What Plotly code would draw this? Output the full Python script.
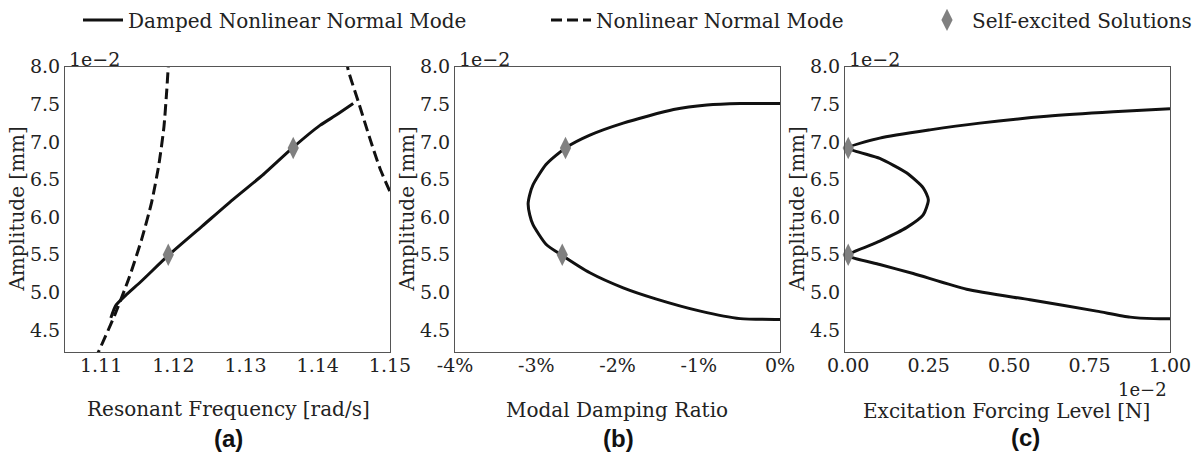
import plotly.graph_objects as go

W, H = 1201, 457

# ---------------- data (amplitudes in units of 1e-2 mm) ----------------
# (a) resonant frequency vs amplitude
freq_dnnm = [1.11135, 1.1120, 1.1133, 1.1156, 1.1193, 1.1240, 1.1282, 1.1325, 1.1365, 1.1403, 1.1426, 1.1449]
amp_dnnm_a = [4.66, 4.82, 4.95, 5.15, 5.49, 5.88, 6.23, 6.57, 6.92, 7.22, 7.36, 7.51]

freq_nnm_left = [1.1091, 1.1096, 1.1119, 1.1139, 1.1156, 1.1170, 1.1180, 1.1187, 1.1191, 1.1193, 1.1195]
amp_nnm_left = [4.10, 4.20, 4.70, 5.20, 5.70, 6.20, 6.70, 7.20, 7.70, 8.00, 8.20]
freq_nnm_right = [1.1440, 1.1442, 1.1456, 1.1472, 1.1486, 1.1500, 1.1510]
amp_nnm_right = [8.10, 7.96, 7.54, 7.05, 6.65, 6.34, 6.15]

freq_self = [1.1193, 1.1366]
amp_self_a = [5.50, 6.92]

# (b) modal damping ratio [%] vs amplitude
damp_ratio = [0.0, -0.49, -0.90, -1.31, -1.93, -2.34, -2.64, -2.88, -3.04, -3.08, -3.10,
              -3.08, -3.04, -2.88, -2.68, -2.34, -1.93, -1.52, -0.98, -0.49, 0.0]
amp_dnnm_b = [7.51, 7.51, 7.49, 7.43, 7.25, 7.09, 6.92, 6.70, 6.43, 6.30, 6.18,
              6.03, 5.90, 5.64, 5.49, 5.26, 5.06, 4.91, 4.75, 4.65, 4.64]
damp_self = [-2.64, -2.68]
amp_self_b = [6.92, 5.50]

# (c) excitation forcing level (1e-2 N) vs amplitude
force_level = [1.0, 0.824, 0.617, 0.409, 0.254, 0.098, 0.0,
               0.098, 0.181, 0.233, 0.249, 0.233, 0.181, 0.098, 0.0,
               0.098, 0.202, 0.368, 0.565, 0.772, 0.876, 0.95, 1.0]
amp_dnnm_c = [7.44, 7.40, 7.34, 7.25, 7.16, 7.05, 6.92,
              6.78, 6.59, 6.39, 6.23, 6.03, 5.86, 5.68, 5.49,
              5.37, 5.25, 5.04, 4.90, 4.75, 4.67, 4.65, 4.65]
force_self = [0.0, 0.0]
amp_self_c = [6.92, 5.50]

# tick labels
x_ticks_a = [1.11, 1.12, 1.13, 1.14, 1.15]
x_text_a = ["1.11", "1.12", "1.13", "1.14", "1.15"]
x_ticks_b = [-4, -3, -2, -1, 0]
x_text_b = ["-4%", "-3%", "-2%", "-1%", "0%"]
x_ticks_c = [0, 0.25, 0.5, 0.75, 1.0]
x_text_c = ["0.00", "0.25", "0.50", "0.75", "1.00"]
y_ticks = [4.5, 5.0, 5.5, 6.0, 6.5, 7.0, 7.5, 8.0]
y_text = ["4.5", "5.0", "5.5", "6.0", "6.5", "7.0", "7.5", "8.0"]

# ---------------- styling ----------------
SERIF = "DejaVu Serif, serif"
TXT = "#222222"
LINE_C = "#111111"
MARK_C = "#808080"
LW = 3
DASH = "11px,5px"
SMOOTH = 0.6

def xp(px):
    return px / W

def yp(py):
    return 1 - py / H

panels = [(65, 390), (455, 780), (845, 1170)]
top_px, bot_px = 65, 352

fig = go.Figure()

solid = dict(color=LINE_C, width=LW, shape="spline", smoothing=SMOOTH)
dashed = dict(color=LINE_C, width=LW, dash=DASH, shape="spline", smoothing=SMOOTH)
mk = dict(symbol="diamond-tall", size=16, color=MARK_C)

# (a)
fig.add_trace(go.Scatter(x=freq_dnnm, y=amp_dnnm_a, mode="lines", line=solid,
                         name="Damped Nonlinear Normal Mode", xaxis="x", yaxis="y", legend="legend"))
fig.add_trace(go.Scatter(x=freq_nnm_left, y=amp_nnm_left, mode="lines", line=dashed,
                         name="Nonlinear Normal Mode", xaxis="x", yaxis="y", legend="legend2"))
fig.add_trace(go.Scatter(x=freq_nnm_right, y=amp_nnm_right, mode="lines", line=dashed,
                         showlegend=False, xaxis="x", yaxis="y"))
fig.add_trace(go.Scatter(x=freq_self, y=amp_self_a, mode="markers", marker=mk,
                         name="Self-excited Solutions", xaxis="x", yaxis="y", legend="legend3",
                         cliponaxis=False))
# (b)
fig.add_trace(go.Scatter(x=damp_ratio, y=amp_dnnm_b, mode="lines", line=solid,
                         showlegend=False, xaxis="x2", yaxis="y2"))
fig.add_trace(go.Scatter(x=damp_self, y=amp_self_b, mode="markers", marker=mk,
                         showlegend=False, xaxis="x2", yaxis="y2", cliponaxis=False))
# (c)
fig.add_trace(go.Scatter(x=force_level, y=amp_dnnm_c, mode="lines", line=solid,
                         showlegend=False, xaxis="x3", yaxis="y3"))
fig.add_trace(go.Scatter(x=force_self, y=amp_self_c, mode="markers", marker=mk,
                         showlegend=False, xaxis="x3", yaxis="y3", cliponaxis=False))

axis_common = dict(showgrid=False, zeroline=False, showline=True, mirror=True,
                   linecolor="#555555", linewidth=1.2, ticks="", automargin=False,
                   tickfont=dict(family=SERIF, size=19, color=TXT), tickmode="array")

xranges = [[1.105, 1.15], [-4, 0], [-0.01, 1.0]]
xticks = [(x_ticks_a, x_text_a), (x_ticks_b, x_text_b), (x_ticks_c, x_text_c)]
ydom = [yp(bot_px), yp(top_px)]
layout = dict(template="none", width=W, height=H, margin=dict(l=0, r=0, t=0, b=0, pad=0),
              paper_bgcolor="white", plot_bgcolor="white",
              font=dict(family=SERIF, color=TXT))
for i, ((l, r), rng, (tv, tt)) in enumerate(zip(panels, xranges, xticks)):
    sfx = "" if i == 0 else str(i + 1)
    layout["xaxis" + sfx] = dict(axis_common, domain=[xp(l), xp(r)], range=rng,
                                 tickvals=tv, ticktext=tt, anchor="y" + sfx,
                                 ticklabelstandoff=-4)
    layout["yaxis" + sfx] = dict(axis_common, domain=ydom, range=[4.2, 8.0],
                                 tickvals=y_ticks, ticktext=y_text, anchor="x" + sfx)

leg_common = dict(orientation="h", xanchor="left", yanchor="middle", y=yp(18),
                  font=dict(family=SERIF, size=20, color=TXT), bgcolor="rgba(0,0,0,0)",
                  itemwidth=40, borderwidth=0)
layout["legend"] = dict(leg_common, x=xp(78))
layout["legend2"] = dict(leg_common, x=xp(546))
layout["legend3"] = dict(leg_common, x=xp(922))

fig.update_layout(**layout)

ann = []
for i, (l, r) in enumerate(panels):
    ann.append(dict(text="1e\u22122", x=xp(l + 2), y=yp(57), xanchor="left", yanchor="middle",
                    showarrow=False, font=dict(family=SERIF, size=19, color=TXT)))
    ann.append(dict(text="Amplitude [mm]", x=xp(l - 48), y=yp((top_px + bot_px) / 2), textangle=-90,
                    xanchor="center", yanchor="middle", showarrow=False,
                    font=dict(family=SERIF, size=20, color=TXT)))
ann.append(dict(text="1e\u22122", x=xp(1169), y=yp(389), xanchor="right", yanchor="middle",
                showarrow=False, font=dict(family=SERIF, size=18, color=TXT)))
xtitles = [("Resonant Frequency [rad/s]", 228, 409), ("Modal Damping Ratio", 617, 410),
           ("Excitation Forcing Level [N]", 1006, 411)]
for t, cx, cy in xtitles:
    ann.append(dict(text=t, x=xp(cx), y=yp(cy), xanchor="center", yanchor="middle", showarrow=False,
                    font=dict(family=SERIF, size=20, color=TXT)))
labels = [("(a)", 228, 438), ("(b)", 618, 438), ("(c)", 1025, 437)]
for t, cx, cy in labels:
    ann.append(dict(text="<b>" + t + "</b>", x=xp(cx), y=yp(cy), xanchor="center", yanchor="middle",
                    showarrow=False, font=dict(family="Liberation Sans, Arial, sans-serif", size=24,
                                               color="#111111")))
for a in ann:
    a["xref"] = "paper"
    a["yref"] = "paper"
fig.update_layout(annotations=ann)

fig.write_html("out.html")
